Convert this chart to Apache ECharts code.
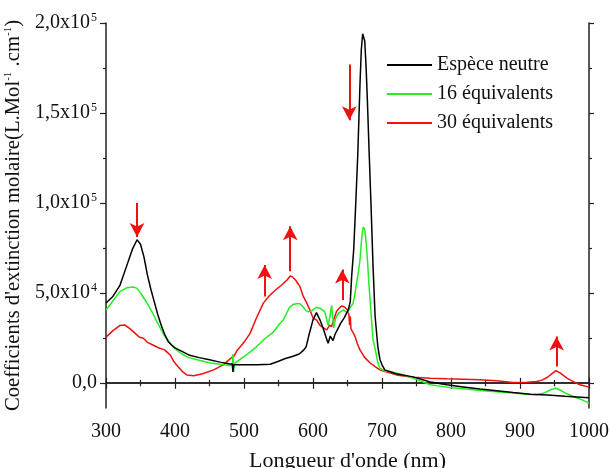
<!DOCTYPE html>
<html>
<head>
<meta charset="utf-8">
<script src="https://cdn.jsdelivr.net/npm/echarts@6/dist/echarts.min.js"></script>
<style>
html,body{margin:0;padding:0;background:#fff;}
#chart{width:611px;height:468px;}
</style>
</head>
<body>
<div id="chart"></div>
<script>
// Wavelengths (nm) and molar extinction values (in units of 1000 L.mol-1.cm-1)
const blackNm = [300,310,320,330,338,345,350,355,360,365,370,375,380,385,390,395,400,410,420,435,450,465,480,483,484,485,490,500,520,538,550,560,570,580,586,590,595,600,605,610,615,620,622,625,627,629,632,636,640,645,651,654,656,659,662,665,668,670,672,673,675,677,679,681,684,687,690,694,697,700,704,720,745,770,794,818,842,866,890,915,940,965,1000];
const blackVal = [44.4,48,54,65,74,79.5,77,70,60,52,45,38,32,27,23,21,19.4,17.5,15.5,14,12.8,11.5,10.5,10.4,6,10,10,10,10,10.3,12,13.5,14.6,16,18,20,27.8,35,39,35,30,24,22,26,26,23.5,27,30,33,36,40.5,45,59,74,100,128,165,185,194,195,190,175,155,132,100,65,37,20,13,10,7.2,5,3.3,0.5,-1.1,-2.3,-3.5,-4.4,-5.4,-6.3,-6.8,-7.5,-8.3];

const greenNm = [300,310,320,330,340,345,350,355,360,365,370,375,380,385,390,395,400,410,420,435,450,465,480,483,484,485,486,490,500,510,518,530,542,552,557,566,571,576,581,586,590,594,598,605,610,617,622,625,627,630,633,637,644,650,654,658,661,663,666,668,670,672,673,675,677,679,681,683,685,687,690,694,697,704,712,730,745,770,794,818,842,866,890,910,924,932,940,946,952,958,968,980,990,1000];
const greenVal = [40.5,45.5,50.7,52.8,53.2,52.5,50,47,44,40.5,37,33,29.5,26,23.5,21,19,16,14,12.5,11.2,10.3,9.6,9.8,16,6,10.5,11.9,14.5,17.5,20,24.5,28,33,35,42,43.5,44,43.9,42,40,39.5,40,42,41.5,39.6,32,38,43,30.5,36,38.7,40.5,38.7,42,44,50,55,62,68,78,85,86.5,85,78,68,55,45,34,24,19,11,8.1,6.5,6.3,4.5,2.6,-1.1,-2.4,-3.3,-4.3,-5,-5.7,-6.3,-6.6,-6,-4.8,-3.6,-3,-4,-6.1,-8,-9.5,-11.3];

const redNm = [300,310,320,327,335,342,348,354,360,368,376,385,390,393,398,402,410,417,427,440,456,470,481,485,490,500,509,518,528,537,547,555,562,567,570,575,581,586,591,596,600,605,610,615,620,624,627,631,634,638,642,646,650,652,653,654,655,658,661,664,668,675,683,690,697,702,721,745,770,794,818,842,866,890,910,924,932,940,946,952,958,968,978,987,1000];
const redVal = [25.4,29,31.8,32.2,30,27.6,25.5,24.8,22.5,21,19.5,18.3,16.5,15.5,12,10,6.5,4.4,3.9,5,7.2,10,13.7,14.6,18,22.5,27.6,36,44.3,48.5,52,54.5,57,59.4,59,57,53.5,48,44.3,40,36,35,32,30.5,29.4,32,31.3,36,39.6,41.5,42.8,42,40.5,38,32,37,30,28,25.7,22,18.3,14,11,9,7.2,6.5,4.4,3.1,2.6,2.2,2.0,1.7,1.2,0.2,0.3,0.7,1.5,3.1,5,6.8,5.5,2.6,0.5,-1.1,-2.4];

const seriesNames = ['Espèce neutre', '16 équivalents', '30 équivalents'];

// Tick values and labels
const xTicks = [300,400,500,600,700,800,900,1000];
const yTickValues = [0, 50000, 100000, 150000, 200000];
const yTickMant = ['0,0', '5,0x10', '1,0x10', '1,5x10', '2,0x10'];
const yTickExp  = ['', '4', '5', '5', '5'];
const yMinorValues = [25000, 75000, 125000, 175000];

// Red annotation arrows: wavelength, start value, end (tip) value (in 1000 units)
const arrowNm   = [345, 530, 567, 642.5, 652.6, 953];
const arrowFrom = [100, 48, 62, 46, 177, 9];
const arrowTo   = [81, 65.5, 87, 63, 146, 25.7];

const FONT = '"Liberation Serif", "Times New Roman", serif';
const K = 1000;
const pairs = (xs, ys) => xs.map((x, i) => [x, ys[i] * K]);

const chart = echarts.init(document.getElementById('chart'), null, {renderer: 'canvas'});

const axisLineStyle = {color: '#222', width: 1.5};
const yMin = -14000, yMax = 200000;

const yLabelFormatter = function (v) {
  const i = yTickValues.indexOf(v);
  if (i < 0) return '';
  return yTickExp[i] ? '{m|' + yTickMant[i] + '}{e|' + yTickExp[i] + '}' : '{m|' + yTickMant[i] + '}';
};

const LEGEND_ICON = 'path://M0,0 L45,0 L45,2 L0,2 Z';

const option = {
  backgroundColor: '#fff',
  animation: false,
  grid: {left: 106, right: 22, top: 23, bottom: 60, containLabel: false, outerBoundsMode: 'none'},
  legend: {
    orient: 'vertical',
    left: 382,
    top: 50,
    itemWidth: 45,
    itemHeight: 2,
    itemGap: 9,
    icon: LEGEND_ICON,
    textStyle: {fontFamily: FONT, fontSize: 20, color: '#111', lineHeight: 20},
    data: seriesNames
  },
  xAxis: [
    {
      type: 'value', min: 300, max: 1000, interval: 100, position: 'bottom',
      axisLine: {show: true, lineStyle: axisLineStyle},
      axisTick: {show: true, inside: false, length: 6, lineStyle: {color: '#222', width: 1.2}},
      minorTick: {show: true, splitNumber: 2, length: 3.5, lineStyle: {color: '#222', width: 1.2}},
      splitLine: {show: false},
      axisLabel: {fontFamily: FONT, fontSize: 20, color: '#111', margin: 14,
        formatter: v => xTicks.indexOf(v) >= 0 ? String(v) : ''},
      name: "Longueur d'onde (nm)",
      nameLocation: 'middle',
      nameGap: 42,
      nameTextStyle: {fontFamily: FONT, fontSize: 22, color: '#111'}
    },
    {
      type: 'value', min: 300, max: 1000, interval: 100, position: 'top',
      axisLine: {show: true, lineStyle: axisLineStyle},
      axisTick: {show: true, inside: false, length: 5, lineStyle: {color: '#222', width: 1.2}},
      minorTick: {show: true, splitNumber: 2, length: 3, lineStyle: {color: '#222', width: 1.2}},
      splitLine: {show: false},
      axisLabel: {show: false}
    }
  ],
  yAxis: [
    {
      type: 'value', min: yMin, max: yMax, position: 'left',
      axisLine: {show: true, lineStyle: axisLineStyle},
      axisTick: {show: true, inside: false, length: 6, customValues: yTickValues, lineStyle: {color: '#222', width: 1.2}},
      splitLine: {show: false},
      axisLabel: {
        customValues: yTickValues,
        margin: 9,
        formatter: yLabelFormatter,
        rich: {
          m: {fontFamily: FONT, fontSize: 20, color: '#111', lineHeight: 22},
          e: {fontFamily: FONT, fontSize: 12, color: '#111', verticalAlign: 'top', lineHeight: 12, padding: [0, 0, 0, 1]}
        }
      },
      name: '{t|Coefficients d\'extinction molaire(L.Mol}{s|-1}{t| .cm}{s|-1}{t|)}',
      nameLocation: 'middle',
      nameRotate: 90,
      nameGap: 78,
      nameTextStyle: {
        rich: {
          t: {fontFamily: FONT, fontSize: 20.7, color: '#111', lineHeight: 21},
          s: {fontFamily: FONT, fontSize: 11, color: '#111', verticalAlign: 'top', lineHeight: 11}
        }
      }
    },
    {
      type: 'value', min: yMin, max: yMax, position: 'left',
      axisLine: {show: false},
      axisTick: {show: true, inside: false, length: 3, customValues: yMinorValues, lineStyle: {color: '#222', width: 1.2}},
      splitLine: {show: false},
      axisLabel: {show: false}
    },
    {
      type: 'value', min: yMin, max: yMax, position: 'right',
      axisLine: {show: true, lineStyle: axisLineStyle},
      axisTick: {show: true, inside: false, length: 5, customValues: yTickValues, lineStyle: {color: '#222', width: 1.2}},
      splitLine: {show: false},
      axisLabel: {show: false}
    },
    {
      type: 'value', min: yMin, max: yMax, position: 'right',
      axisLine: {show: false},
      axisTick: {show: true, inside: false, length: 3, customValues: yMinorValues, lineStyle: {color: '#222', width: 1.2}},
      splitLine: {show: false},
      axisLabel: {show: false}
    }
  ],
  series: [
    {
      name: seriesNames[2], type: 'line', symbol: 'none', z: 2,
      lineStyle: {color: '#f01010', width: 1.5}, itemStyle: {color: '#f01010'},
      data: pairs(redNm, redVal),
      markLine: {
        silent: true,
        symbol: ['none', 'arrow'],
        symbolSize: [11, 14],
        label: {show: false},
        lineStyle: {color: '#f01010', width: 2, type: 'solid'},
        data: arrowNm.map((x, i) => [{coord: [x, arrowFrom[i] * K]}, {coord: [x, arrowTo[i] * K]}])
      }
    },
    {
      name: seriesNames[1], type: 'line', symbol: 'none', z: 3,
      lineStyle: {color: '#22ee22', width: 1.5}, itemStyle: {color: '#22ee22'},
      data: pairs(greenNm, greenVal)
    },
    {
      name: seriesNames[0], type: 'line', symbol: 'none', z: 4,
      lineStyle: {color: '#000', width: 1.5}, itemStyle: {color: '#000'},
      data: pairs(blackNm, blackVal)
    }
  ]
};
chart.setOption(option);
</script>
</body>
</html>
